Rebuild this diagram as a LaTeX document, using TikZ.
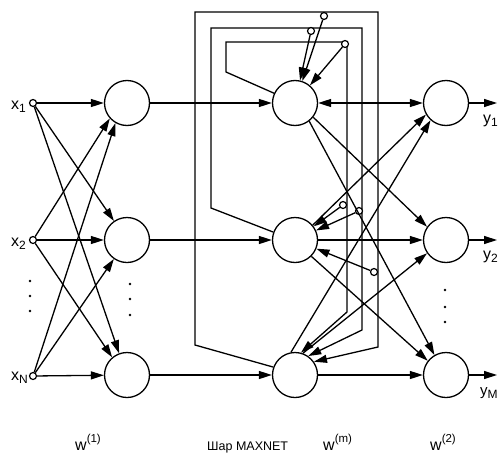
\documentclass[tikz,border=0pt]{standalone}
\usepackage{fontspec}
\setmainfont{Liberation Sans}
\usetikzlibrary{arrows.meta}
\pgfdeclarelayer{bg}
\pgfsetlayers{bg,main}
\newcommand\lsub[1]{\raisebox{-3pt}{\fontsize{12}{12}\selectfont #1}}
\newcommand\lsup[1]{\raisebox{8pt}{\fontsize{11.5}{12}\selectfont #1}}
\begin{document}
\begin{tikzpicture}[x=1pt,y=-1pt,
  every node/.style={font=\fontsize{16}{16}\selectfont},
  neuron/.style={circle,draw,line width=1.3pt,minimum size=45pt,inner sep=0pt,fill=white},
  port/.style={circle,draw,line width=1.2pt,fill=white,minimum size=7pt,inner sep=0pt},
  conn/.style={line width=1.3pt},
  arr/.style={conn,-{Triangle[length=13pt,width=8pt]}},
  barr/.style={conn,{Triangle[length=13pt,width=8pt]}-{Triangle[length=13pt,width=8pt]}},
  dotmark/.style={circle,fill,inner sep=0pt,minimum size=2.8pt},
  lbl/.style={anchor=base west,inner sep=0pt}
]
\useasboundingbox (0,0) rectangle (500,455);

% inputs
\node[port] (in1) at (33,103) {};
\node[port] (in2) at (33,240) {};
\node[port] (in3) at (33,376) {};
\node[lbl] (lx1) at (11,109) {x\lsub{1}};
\node[lbl] (lx2) at (11,246) {x\lsub{2}};
\node[lbl] (lx3) at (11,380) {x\lsub{N}};

% first layer
\node[neuron] (h1) at (127,103) {};
\node[neuron] (h2) at (127,240) {};
\node[neuron] (h3) at (127,375) {};

% MAXNET layer
\node[neuron] (mt) at (295,103) {};
\node[neuron] (mm) at (295,240) {};
\node[neuron] (mb) at (295,375) {};

% output layer
\node[neuron] (o1) at (446,103) {};
\node[neuron] (o2) at (446,240) {};
\node[neuron] (o3) at (446,375) {};

% inhibition taps
\node[port] (pA) at (324,16) {};
\node[port] (pB) at (311,31) {};
\node[port] (pC) at (345,44) {};
\node[port] (pD) at (343,205) {};
\node[port] (pE) at (359,211) {};
\node[port] (pF) at (374,272) {};

% ellipsis dots
\foreach \y [count=\i] in {281,296,311} \node[dotmark] (di\i) at (30,\y) {};
\foreach \y [count=\i] in {284,299,315} \node[dotmark] (dh\i) at (130,\y) {};
\foreach \y [count=\i] in {290,307,322} \node[dotmark] (do\i) at (445,\y) {};

% input -> first layer
\draw[arr] (in1) -- (h1);
\draw[arr] (in1) -- (h2);
\draw[arr] (in1) -- (h3.110);
\draw[arr] (in2) -- (h1.222);
\draw[arr] (in2) -- (h2);
\draw[arr] (in2) -- (h3.130);
\draw[arr] (in3) -- (h1.240);
\draw[arr] (in3) -- (h2);
\draw[arr] (in3) -- (h3);

% first layer -> MAXNET
\draw[arr] (h1) -- (mt);
\draw[arr] (h2) -- (mm);
\draw[arr] (h3) -- (mb);

% MAXNET feedback loops
\begin{pgfonlayer}{bg}
\draw[arr] (mt.155) -- (226,72) -- (226,42) -- (347,42) -- (347,312) -- (mb.75);
\draw[arr] (mm.160) -- (211,208) -- (211,28) -- (362,28) -- (362,330) -- (mb.55);
\draw[arr] (mb.160) -- (195,345) -- (195,12) -- (378,12) -- (378,347) -- (mb.35);
\end{pgfonlayer}
\draw[arr] (pA) -- (mt);
\draw[arr] (pB) -- (mt);
\draw[arr] (pC) -- (mt);
\draw[arr] (pD) -- (mm);
\draw[arr] (pE) -- (mm);
\draw[arr] (pF) -- (mm);

% MAXNET -> output layer
\draw[barr] (mt) -- (o1);
\draw[arr] (mt.-38) -- (o2.145);
\draw[arr] (mt.-52) -- (o3.120);
\draw[arr] (mm.40) -- (o1.210);
\draw[arr] (mm) -- (o2);
\draw[arr] (mm.-45) -- (o3.142);
\draw[arr] (mb.100) -- (o1.228);
\draw[arr] (mb.70) -- (o2.215);
\draw[arr] (mb) -- (o3);

% outputs
\coordinate (y1) at (497,103);
\coordinate (y2) at (497,240);
\coordinate (y3) at (497,375);
\draw[arr] (o1) -- (y1);
\draw[arr] (o2) -- (y2);
\draw[arr] (o3) -- (y3);
\node[lbl] (ly1) at (483,123) {y\lsub{1}};
\node[lbl] (ly2) at (483,259) {y\lsub{2}};
\node[lbl,font=\fontsize{15}{15}\selectfont] (ly3) at (480,395) {y\lsub{M}};

% layer captions
\node[lbl] (w1) at (75,450) {w\lsup{(1)}};
\node[lbl,font=\fontsize{12.5}{13}\selectfont] (mx) at (207,450) {Шар MAXNET};
\node[lbl] (wm) at (323,450) {w\lsup{(m)}};
\node[lbl] (w2) at (430,450) {w\lsup{(2)}};
\end{tikzpicture}
\end{document}
